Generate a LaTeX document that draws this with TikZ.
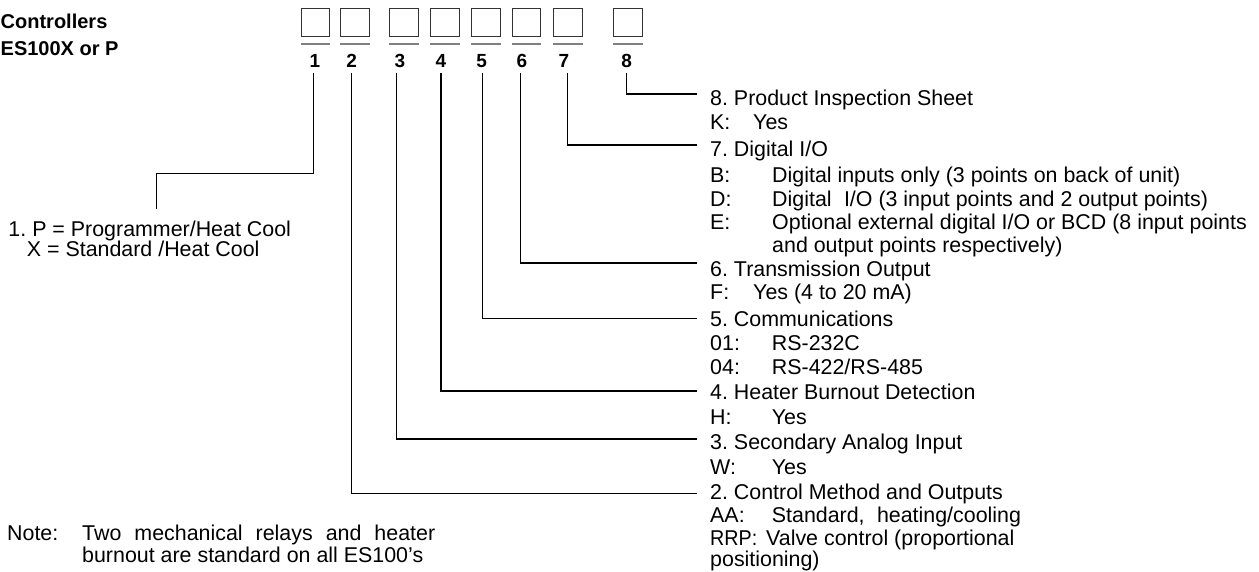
\documentclass[tikz,border=0pt]{standalone}
\usepackage{fontspec}
\setmainfont{Liberation Sans}
\begin{document}
\frenchspacing
\begin{tikzpicture}[x=1pt,y=-1pt,
  conn/.style={line width=1.2pt, black},
  digitbox/.style={draw=black!80, line width=1.1pt, minimum width=28.5pt, minimum height=27.7pt, inner sep=0pt, anchor=north west},
  uline/.style={line width=1.8pt, black!50},
  num/.style={font=\fontsize{19}{19}\bfseries, inner xsep=0pt, inner ysep=0pt, outer ysep=6pt, anchor=base},
  txt/.style={font=\fontsize{21.4}{23.5}\selectfont, inner sep=0pt, anchor=base west},
  ttl/.style={font=\fontsize{20}{22}\bfseries, inner sep=0pt, anchor=base west}]
\useasboundingbox (0,0) rectangle (1259,571);
\fill[white] (0,0) rectangle (1259,571);

% title
\node[ttl] (c1) at (0.5,28.3) {Controllers};
\node[ttl] (c2) at (0.5,55) {ES100X or P};

% boxes
\foreach \i/\x in {1/300.7,2/340,3/389,4/430,5/471,6/511.7,7/553.3,8/613.3}{
  \node[digitbox] (b\i) at (\x,8.3) {};
  \draw[uline] ([yshift=-6.7pt]b\i.south west) -- ([yshift=-6.7pt]b\i.south east);
}

% numbers
\node[num] (n1) at (315,67) {1};
\node[num] (n2) at (351.7,67) {2};
\node[num] (n3) at (400,67) {3};
\node[num] (n4) at (441,67) {4};
\node[num] (n5) at (481.7,67) {5};
\node[num] (n6) at (522,67) {6};
\node[num] (n7) at (564,67) {7};
\node[num] (n8) at (626.7,67) {8};

% connector ends
\coordinate (k1) at (156.7,173.3);
\coordinate (e1) at (156.7,209.3);
\coordinate (e8) at (697,94);
\coordinate (e7) at (697,145);
\coordinate (e6) at (697,263);
\coordinate (e5) at (697,318.3);
\coordinate (e4) at (697,391);
\coordinate (e3) at (697,439);
\coordinate (e2) at (697,493.3);

\draw[conn] ([xshift=-1.7pt]n1.south) |- (k1) -- (e1);
\draw[conn] (n2.south) |- (e2);
\draw[conn] ([xshift=-3.3pt]n3.south) |- (e3);
\draw[conn] (n4.south) |- (e4);
\draw[conn] ([xshift=0.6pt]n5.south) |- (e5);
\draw[conn] ([xshift=-1.3pt]n6.south) |- (e6);
\draw[conn] ([xshift=3.3pt]n7.south) |- (e7);
\draw[conn] (n8.south) |- (e8);

% left texts
\node[txt] (t1) at (8.3,236) {1. P = Programmer/Heat Cool};
\node[txt] (t1b) at (26.7,256) {X = Standard /Heat Cool};

\node[txt] (nt) at (7,540) {Note:};
\node[txt] (nl1) at (82,540) {\hbox to 353pt{Two\hfill mechanical\hfill relays\hfill and\hfill heater}};
\node[txt] (nl2) at (82,562) {burnout are standard on all ES100’s};

% right texts
\node[txt] (h8) at (710,105.5) {8. Product Inspection Sheet};
\node[txt] (k8) at (710,129.4) {K:};
\node[txt] (v8) at (753,129.4) {Yes};

\node[txt] (h7) at (710,156) {7. Digital I/O};
\node[txt] (kb) at (710,182.7) {B:};
\node[txt] (vb) at (772,182.7) {Digital inputs only (3 points on back of unit)};
\node[txt] (kd) at (710,206) {D:};
\node[txt] (vd) at (772,206) {Digital\hspace{0.3em} I/O (3 input points and 2 output points)};
\node[txt] (ke) at (710,229.4) {E:};
\node[txt] (ve) at (772,229.4) {Optional external digital I/O or BCD (8 input points};
\node[txt] (ve2) at (772,252.7) {and output points respectively)};

\node[txt] (h6) at (710,276) {6. Transmission Output};
\node[txt] (kf) at (710,299.4) {F:};
\node[txt] (vf) at (753,299.4) {Yes (4 to 20 mA)};

\node[txt] (h5) at (710,326) {5. Communications};
\node[txt] (k01) at (710,350.4) {01:};
\node[txt] (v01) at (771.7,350.4) {RS-232C};
\node[txt] (k04) at (710,374.4) {04:};
\node[txt] (v04) at (771.7,374.4) {RS-422/RS-485};

\node[txt] (h4) at (710,399.4) {4. Heater Burnout Detection};
\node[txt] (kh) at (710,424.4) {H:};
\node[txt] (vh) at (771.7,424.4) {Yes};

\node[txt] (h3) at (710,449.4) {3. Secondary Analog Input};
\node[txt] (kw) at (710,474.4) {W:};
\node[txt] (vw) at (771.7,474.4) {Yes};

\node[txt] (h2) at (710,499.4) {2. Control Method and Outputs};
\node[txt] (kaa) at (710,522.7) {AA:};
\node[txt] (vaa) at (771.7,522.7) {Standard,\hspace{0.3em} heating/cooling};
\node[txt] (krrp) at (710,545.5) {\scalebox{0.92}[1]{RRP:}};
\node[txt] (vrrp) at (766,545.5) {Valve control (proportional};
\node[txt] (vrrp2) at (710,566) {positioning)};
\end{tikzpicture}
\end{document}
